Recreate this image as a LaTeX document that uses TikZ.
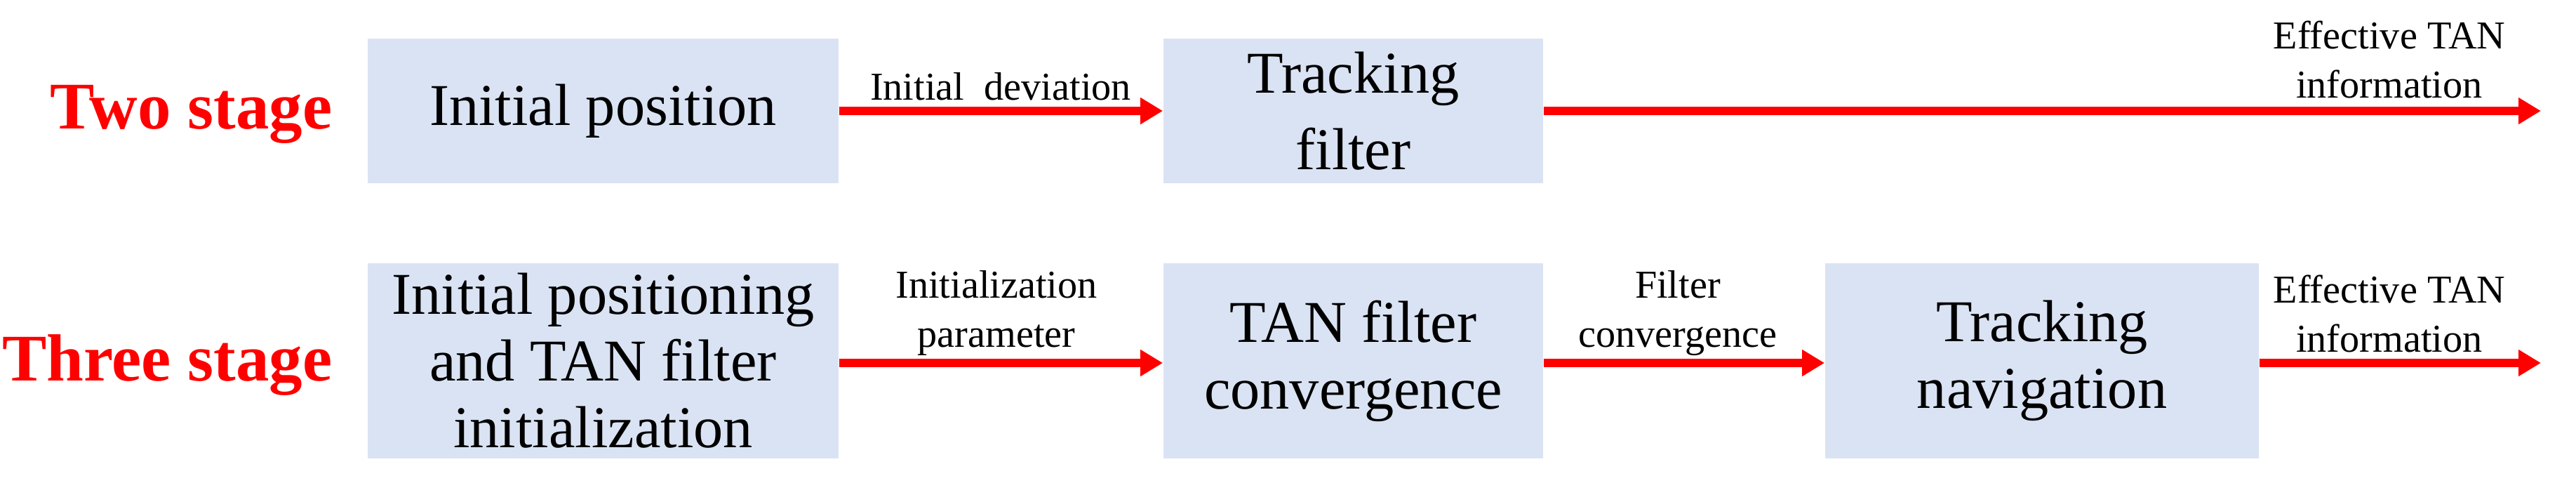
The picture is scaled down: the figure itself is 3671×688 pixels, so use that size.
\documentclass[tikz,border=0pt]{standalone}
\usepackage{fontspec}
\setmainfont{Liberation Serif}
\newfontfamily\timesf{Liberation Serif}
\usetikzlibrary{arrows.meta}
\definecolor{boxblue}{HTML}{DAE3F3}
\tikzset{
 blk/.style={fill=boxblue,draw=none,inner sep=0pt,align=center,font=\timesf\fontsize{24}{27}\selectfont},
 flow/.style={draw=red,line width=3.4pt,-{Triangle[length=0.32cm,width=0.36cm]}},
 lbl/.style={align=center,font=\timesf\fontsize{16}{20}\selectfont,inner sep=0pt},
 stage/.style={text=red,font=\timesf\fontsize{27}{30}\selectfont\bfseries,inner sep=0pt,anchor=east}
}
\begin{document}
\begin{tikzpicture}[x=0.01cm,y=-0.01cm]
\useasboundingbox (0,0) rectangle (3671,688);
\node[stage] (s2) at (474,163) {Two stage};
\node[stage] (s3) at (474,520) {Three stage};
\node[blk,minimum width=6.71cm,minimum height=2.06cm] (a) at (859.5,158) {Initial position};
\node[blk,minimum width=5.41cm,minimum height=2.06cm] (b) at (1928.5,158) {Tracking\\[4pt]filter};
\coordinate (e1) at (3621,158);
\node[blk,minimum width=6.71cm,minimum height=2.77cm] (c) at (859.5,514) {Initial positioning\\and TAN filter\\initialization};
\node[blk,minimum width=5.41cm,minimum height=2.77cm] (d) at (1928.5,514) {TAN filter\\convergence};
\node[blk,minimum width=6.18cm,minimum height=2.77cm] (f) at (2910,514) {Tracking\\navigation};
\coordinate (e2) at (3621,517);
\draw[flow] (a.east|-0,158) -- (b.west|-0,158);
\draw[flow] (b.east|-0,158) -- (e1);
\draw[flow] (c.east|-0,517) -- (d.west|-0,517);
\draw[flow] (d.east|-0,517) -- (f.west|-0,517);
\draw[flow] (f.east|-0,517) -- (e2);
\node[lbl] (l1) at (1426,123) {Initial\enspace deviation};
\node[lbl] (l2) at (1420,446) {Initialization\\parameter};
\node[lbl] (l3) at (2391,446) {Filter\\convergence};
\node[lbl] (l4) at (3405,85) {Effective TAN\\information};
\node[lbl] (l5) at (3405,447) {Effective TAN\\information};
\end{tikzpicture}
\end{document}
